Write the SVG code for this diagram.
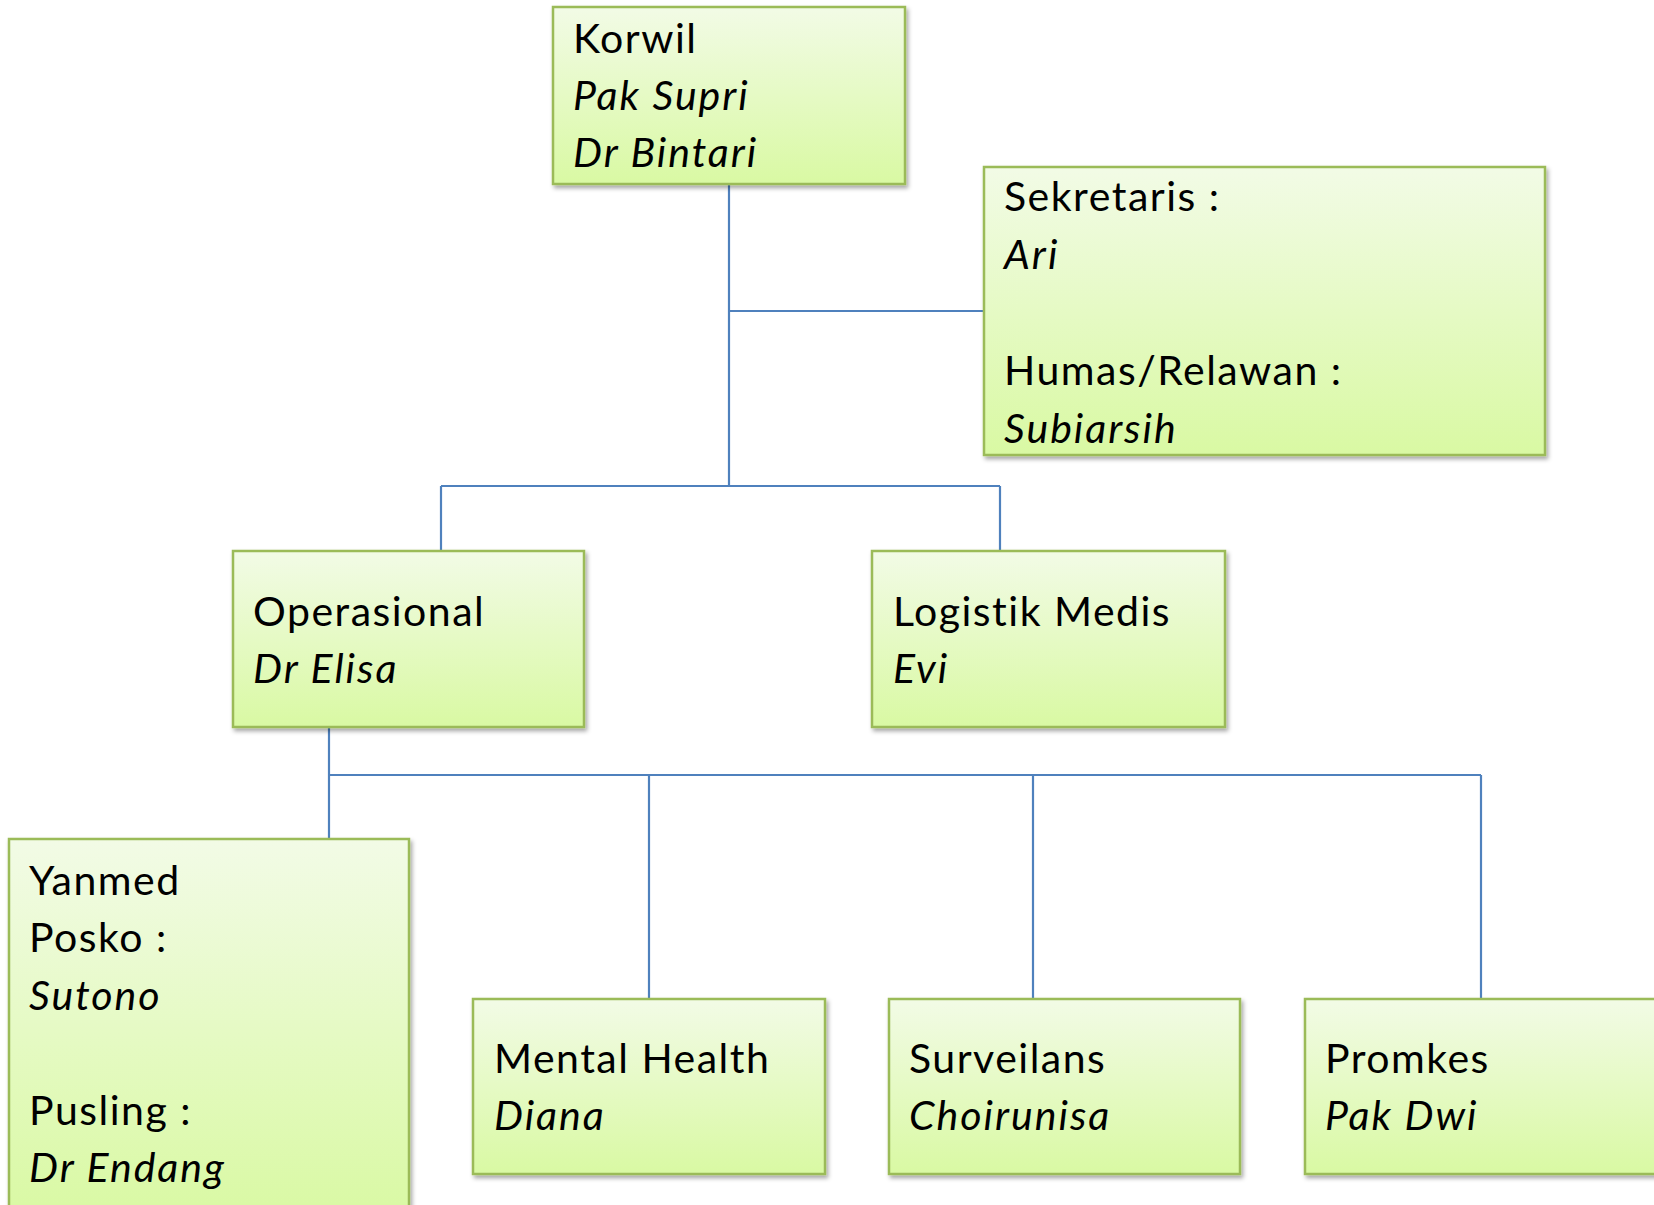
<svg xmlns="http://www.w3.org/2000/svg" width="1654" height="1205" viewBox="0 0 1654 1205">
<style>
.box{fill:url(#g);stroke:#9bbb59;stroke-width:2.5;filter:url(#sh)}
.t{font-family:Lato,"Open Sans",sans-serif;font-size:41px;letter-spacing:1.5px;fill:#000}
.i{font-style:italic;letter-spacing:2px}
.c{stroke:#4f81bd;stroke-width:2.2;fill:none}
</style>
<defs>
<linearGradient id="g" x1="0" y1="0" x2="0" y2="1">
<stop offset="0" stop-color="#f2fbe6"/>
<stop offset="1" stop-color="#d9f9a3"/>
</linearGradient>
<filter id="sh" x="-5%" y="-5%" width="115%" height="120%">
<feDropShadow dx="2" dy="3" stdDeviation="2" flood-color="#000" flood-opacity="0.35"/>
</filter>
</defs>
<rect width="1654" height="1205" fill="#fff"/>
<g id="connectors">
<path class="c" d="M729 184V486M729 311H984M441 486H1000M441 486V551M1000 486V551"/>
<path class="c" d="M329 727V839M329 775H1481M649 775V999M1033 775V999M1481 775V999"/>
</g>
<g id="korwil">
<rect class="box" x="553" y="7" width="352" height="177"/>
<text class="t" x="573" y="53">Korwil</text>
<text class="t i" x="573" y="110">Pak Supri</text>
<text class="t i" x="573" y="167">Dr Bintari</text>
</g>
<g id="sekretaris">
<rect class="box" x="984" y="167" width="561" height="288"/>
<text class="t" x="1004" y="211">Sekretaris :</text>
<text class="t i" x="1004" y="269">Ari</text>
<text class="t" x="1004" y="385">Humas/Relawan :</text>
<text class="t i" x="1004" y="443">Subiarsih</text>
</g>
<g id="operasional">
<rect class="box" x="233" y="551" width="351" height="176"/>
<text class="t" x="253" y="626">Operasional</text>
<text class="t i" x="253" y="683">Dr Elisa</text>
</g>
<g id="logistik">
<rect class="box" x="872" y="551" width="353" height="176"/>
<text class="t" x="893" y="626">Logistik Medis</text>
<text class="t i" x="893" y="683">Evi</text>
</g>
<g id="yanmed">
<rect class="box" x="9" y="839" width="400" height="380"/>
<text class="t" x="29" y="895">Yanmed</text>
<text class="t" x="29" y="952">Posko :</text>
<text class="t i" x="29" y="1010">Sutono</text>
<text class="t" x="29" y="1125">Pusling :</text>
<text class="t i" x="29" y="1182">Dr Endang</text>
</g>
<g id="mental">
<rect class="box" x="473" y="999" width="352" height="175"/>
<text class="t" x="494" y="1073">Mental Health</text>
<text class="t i" x="494" y="1130">Diana</text>
</g>
<g id="surveilans">
<rect class="box" x="889" y="999" width="351" height="175"/>
<text class="t" x="909" y="1073">Surveilans</text>
<text class="t i" x="909" y="1130">Choirunisa</text>
</g>
<g id="promkes">
<rect class="box" x="1305" y="999" width="380" height="175"/>
<text class="t" x="1325" y="1073">Promkes</text>
<text class="t i" x="1325" y="1130">Pak Dwi</text>
</g>
</svg>
